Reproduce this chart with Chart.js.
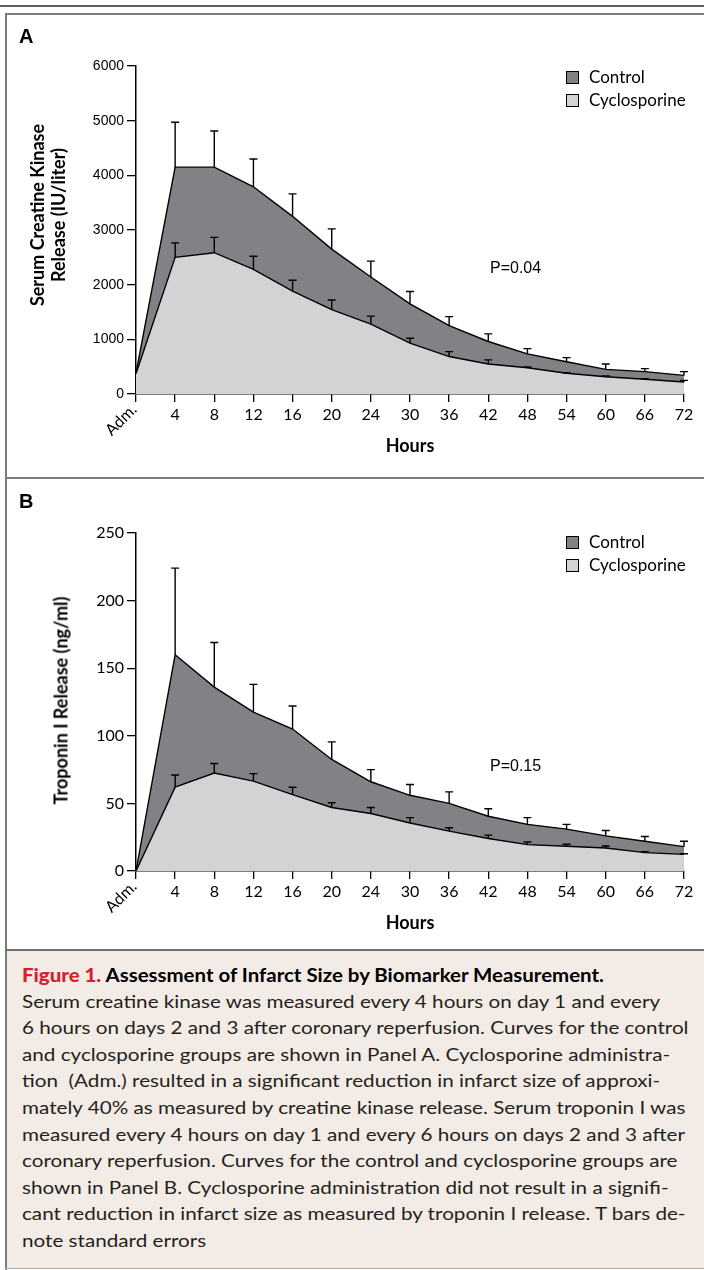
<!DOCTYPE html>
<html lang="en">
<head>
<meta charset="UTF-8">
<title>Figure 1. Assessment of Infarct Size</title>
<script src="https://cdn.jsdelivr.net/npm/chart.js"></script>
<style>
  body { margin: 0; background: #fff; }
  .page { position: relative; width: 704px; height: 1270px; overflow: hidden; font-family: 'Lato', sans-serif; color: #000; }
  canvas { position: absolute; left: 0; }
  .line { position: absolute; }
  .panel-tag { position: absolute; left: 19px; font: bold 20px 'Liberation Sans', Arial, sans-serif; line-height: 20px; }
  .key { position: absolute; left: 566px; font-size: 17px; line-height: 20px; white-space: nowrap; }
  .key i { display: inline-block; width: 13px; height: 13px; box-sizing: border-box; border: 1px solid #000; vertical-align: -1px; margin-right: 10px; }
  .pval { position: absolute; left: 490px; font: 16px 'Liberation Sans', Arial, sans-serif; line-height: 20px; }
  .ytitle { position: absolute; width: 300px; text-align: center; font-weight: bold; font-size: 18px; line-height: 21px; transform: rotate(-90deg); white-space: nowrap; }
  .caption { position: absolute; left: 7px; top: 951px; width: 697px; height: 317px; background: #f3ebe6; }
  .cap-text { position: absolute; left: 22px; top: 962px; font-size: 17px; line-height: 26.6px; color: #231f20; white-space: nowrap; transform-origin: 0 0; }
  .cap-text .title { font-weight: bold; font-size: 18px; color: #000; }
  .cap-text .title b { color: #d2232f; }
  .cap-text span { display: inline-block; }
</style>
</head>
<body>
<div class="page">
  <canvas id="ckChart" width="704" height="477" style="top:0"></canvas>
  <canvas id="tnChart" width="704" height="470" style="top:479px"></canvas>

  <div class="caption"></div>

  <div class="line" style="left:0;top:5px;width:704px;height:2px;background:#5f5f5f"></div>
  <div class="line" style="left:5px;top:13px;width:699px;height:2px;background:#7b7b7b"></div>
  <div class="line" style="left:5px;top:13px;width:2px;height:1257px;background:#7b7b7b"></div>
  <div class="line" style="left:5px;top:477px;width:699px;height:2px;background:#7b7b7b"></div>
  <div class="line" style="left:5px;top:949px;width:699px;height:2px;background:#6f6f6f"></div>
  <div class="line" style="left:5px;top:1268px;width:699px;height:1px;background:#b5afab"></div>

  <div class="panel-tag" style="top:26px">A</div>
  <div class="panel-tag" style="top:491px">B</div>

  <div class="ytitle" style="left:-102px;top:194px">Serum Creatine Kinase<br>Release (IU/liter)</div>
  <div class="ytitle" style="left:-89px;top:690px">Troponin I Release (ng/ml)</div>

  <div class="key" style="top:67px"><i style="background:#808285"></i>Control</div>
  <div class="key" style="top:90px"><i style="background:#d1d3d4"></i>Cyclosporine</div>
  <div class="key" style="top:532px"><i style="background:#808285"></i>Control</div>
  <div class="key" style="top:555px"><i style="background:#d1d3d4"></i>Cyclosporine</div>

  <div class="pval" style="top:258px">P=0.04</div>
  <div class="pval" style="top:756px">P=0.15</div>

  <div class="cap-text" id="capTitle">
    <span class="title"><b>Figure 1.</b> Assessment of Infarct Size by Biomarker Measurement.</span>
  </div>
  <div class="cap-text" id="capBody" style="top:988.6px">
    <span>Serum creatine kinase was measured every 4 hours on day 1 and every</span><br>
    <span id="capRef">6 hours on days 2 and 3 after coronary reperfusion. Curves for the control</span><br>
    <span>and cyclosporine groups are shown in Panel A. Cyclosporine administra-</span><br>
    <span>tion &nbsp;(Adm.) resulted in a significant reduction in infarct size of approxi-</span><br>
    <span>mately 40% as measured by creatine kinase release. Serum troponin I was</span><br>
    <span>measured every 4 hours on day 1 and every 6 hours on days 2 and 3 after</span><br>
    <span>coronary reperfusion. Curves for the control and cyclosporine groups are</span><br>
    <span>shown in Panel B. Cyclosporine administration did not result in a signifi-</span><br>
    <span>cant reduction in infarct size as measured by troponin I release. T bars de-</span><br>
    <span>note standard errors</span>
  </div>
</div>

<script>
  // time points (category axis)
  const hours = ['Adm.', '4', '8', '12', '16', '20', '24', '30', '36', '42', '48', '54', '60', '66', '72'];

  // Panel A: serum creatine kinase (IU/liter), mean and SE
  const ckControl   = [380, 4150, 4150, 3790, 3250, 2650, 2140, 1650, 1250, 960, 735, 590, 450, 410, 340];
  const ckControlSE = [0, 820, 660, 510, 410, 370, 290, 225, 165, 140, 95, 75, 100, 55, 70];
  const ckCyclo     = [370, 2500, 2585, 2280, 1880, 1545, 1280, 930, 685, 550, 480, 380, 315, 270, 220];
  const ckCycloSE   = [0, 265, 280, 240, 200, 175, 145, 90, 90, 75, 15, 10, 15, 10, 30];
  const ckMax = 6000, ckStep = 1000;

  // Panel B: troponin I (ng/ml), mean and SE
  const tnControl   = [0, 160, 136, 117.5, 105, 82.5, 66, 56, 50, 40.5, 34.5, 31, 26, 22, 18];
  const tnControlSE = [0, 64, 33, 20.5, 17, 13, 9, 8, 8.5, 5.5, 5, 3.5, 4, 3.5, 4];
  const tnCyclo     = [0, 62, 72.5, 66.5, 56.5, 47, 42.5, 35.5, 29.5, 24, 19.5, 18.3, 17, 13.6, 12.3];
  const tnCycloSE   = [0, 9, 7, 5.5, 5.5, 3.5, 4.5, 4, 2.5, 2.5, 2, 1.5, 1.5, 0.7, 0.5];
  const tnMax = 250, tnStep = 50;

  const CONTROL_FILL = '#808285';
  const CYCLO_FILL = '#d1d3d4';

  function makePanel(id, control, controlSE, cyclo, cycloSE, yMax, yStep, yFont, pad) {
    // upward T bars for the standard errors
    const tBars = {
      id: 'tBars',
      afterDatasetsDraw(chart) {
        const ctx = chart.ctx, x = chart.scales.x, y = chart.scales.y;
        ctx.save();
        ctx.strokeStyle = '#000';
        ctx.lineWidth = 1.4;
        [[control, controlSE], [cyclo, cycloSE]].forEach(([m, se]) => {
          m.forEach((v, i) => {
            if (!se[i]) return;
            const px = x.getPixelForValue(i);
            const y0 = y.getPixelForValue(v);
            const y1 = y.getPixelForValue(v + se[i]);
            ctx.beginPath();
            ctx.moveTo(px, y0); ctx.lineTo(px, y1);
            ctx.moveTo(px - 4, y1); ctx.lineTo(px + 4, y1);
            ctx.stroke();
          });
        });
        ctx.restore();
      }
    };
    // slanted "Adm." label under the first tick
    const admLabel = {
      id: 'admLabel',
      afterDraw(chart) {
        const ctx = chart.ctx, x = chart.scales.x;
        ctx.save();
        ctx.translate(x.getPixelForValue(0) - 2, x.top + 13);
        ctx.rotate(-Math.PI / 4);
        ctx.font = '16px Lato';
        ctx.fillStyle = '#000';
        ctx.textAlign = 'right';
        ctx.textBaseline = 'middle';
        ctx.fillText(hours[0], 0, 0);
        ctx.restore();
      }
    };

    return new Chart(document.getElementById(id), {
      type: 'line',
      data: {
        labels: hours,
        datasets: [
          { label: 'Control', data: control, order: 2, fill: 'origin',
            backgroundColor: CONTROL_FILL, borderColor: '#000', borderWidth: 1.4,
            pointRadius: 0, tension: 0 },
          { label: 'Cyclosporine', data: cyclo, order: 1, fill: 'origin',
            backgroundColor: CYCLO_FILL, borderColor: '#000', borderWidth: 1.4,
            pointRadius: 0, tension: 0 }
        ]
      },
      options: {
        responsive: false,
        animation: false,
        devicePixelRatio: 1,
        layout: { padding: { left: 0, top: pad.top, right: 20, bottom: pad.bottom } },
        plugins: { legend: { display: false }, tooltip: { enabled: false } },
        scales: {
          x: {
            offset: false,
            grid: { drawOnChartArea: false, color: '#000', lineWidth: 1.3, tickLength: 8 },
            border: { color: '#000', width: 1.5 },
            ticks: {
              color: '#000', font: { family: 'Lato', size: 16 }, padding: 3,
              autoSkip: false, maxRotation: 0, minRotation: 0,
              callback: (v, i) => i === 0 ? '' : hours[i]
            },
            title: { display: true, text: 'Hours', color: '#000',
              font: { family: 'Lato', size: 18, weight: 'bold' }, padding: 0 },
            afterFit: s => { s.height = 63; }
          },
          y: {
            min: 0, max: yMax,
            grid: { drawOnChartArea: false, color: '#000', lineWidth: 1.3, tickLength: 9 },
            border: { color: '#000', width: 1.5 },
            ticks: { stepSize: yStep, color: '#000', font: yFont, padding: 3,
              callback: v => String(v) },
            afterFit: s => { s.width = 136; }
          }
        }
      },
      plugins: [tBars, admLabel]
    });
  }

  makePanel('ckChart', ckControl, ckControlSE, ckCyclo, ckCycloSE, ckMax, ckStep,
    { family: 'Liberation Sans', size: 14 }, { top: 66, bottom: 20 });
  makePanel('tnChart', tnControl, tnControlSE, tnCyclo, tnCycloSE, tnMax, tnStep,
    { family: 'Lato', size: 16 }, { top: 54, bottom: 15 });

  // squeeze the caption to the column width of the original
  function fitCaption() {
    const body = document.getElementById('capBody');
    const ref = document.getElementById('capRef');
    body.style.transform = '';
    body.style.transform = 'scaleX(' + (666 / ref.offsetWidth) + ')';
    const title = document.getElementById('capTitle');
    const t = title.querySelector('span');
    title.style.transform = '';
    title.style.transform = 'scaleX(' + (582 / t.offsetWidth) + ')';
  }
  fitCaption();
  if (document.fonts) document.fonts.ready.then(fitCaption);
</script>
</body>
</html>
